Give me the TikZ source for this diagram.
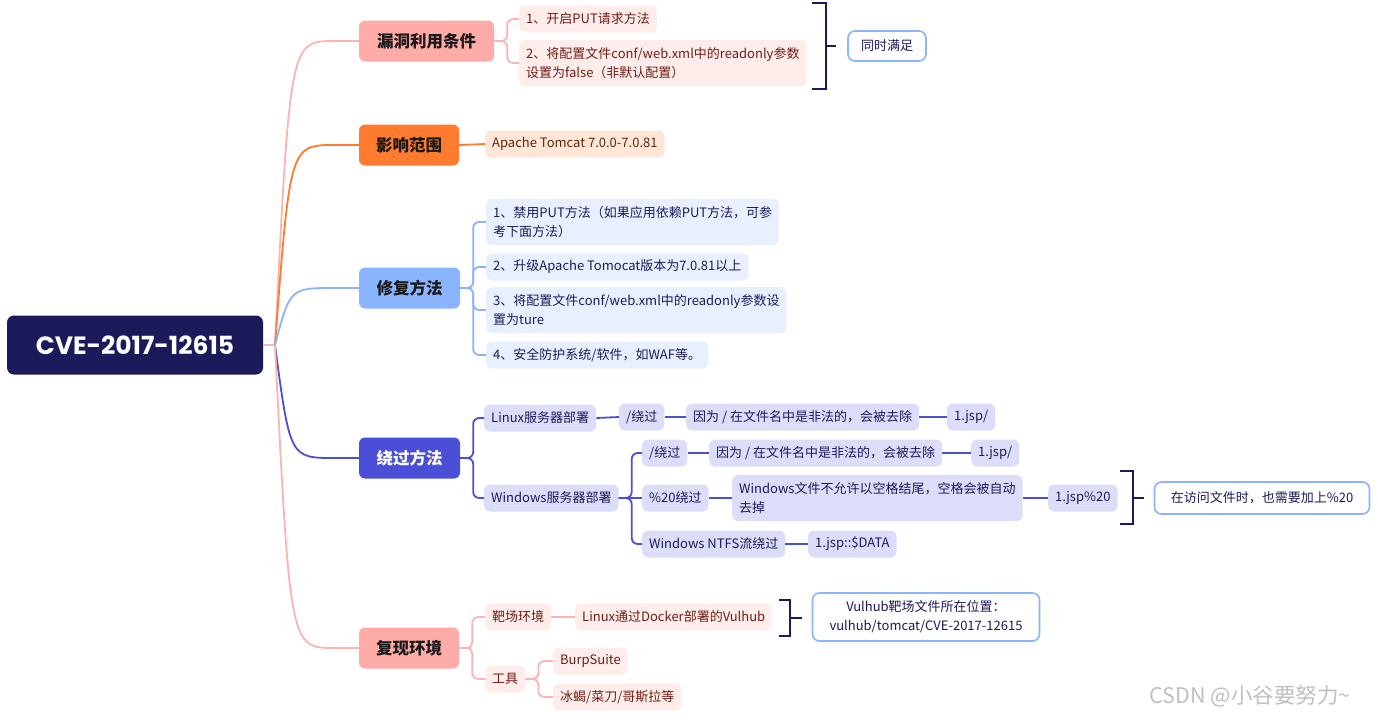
\documentclass[tikz,border=0pt]{standalone}
\usepackage{fontspec}
\setmainfont{Noto Sans CJK SC}
\newfontfamily\rootfont{Poppins}
\definecolor{navy}{HTML}{1C1A5A}
\definecolor{pinkmain}{HTML}{FFABA8}
\definecolor{pinkline}{HTML}{FFB3AE}
\definecolor{pinkbg}{HTML}{FFEDEC}
\definecolor{pinktext}{HTML}{6E1E14}
\definecolor{orangemain}{HTML}{FF7B2F}
\definecolor{orangebg}{HTML}{FFE6D6}
\definecolor{orangetext}{HTML}{5A2A10}
\definecolor{bluemain}{HTML}{8BB4FF}
\definecolor{bluebg}{HTML}{E8EFFE}
\definecolor{indigomain}{HTML}{4B4FD8}
\definecolor{indigobg}{HTML}{DCDDF8}

\begin{document}
\begin{tikzpicture}[x=1pt,y=-1pt,
  rootbox/.style={fill=navy, rounded corners=7pt, minimum width=256pt, minimum height=59pt,
    text=white, font=\rootfont\fontsize{25}{30}\selectfont\bfseries},
  mainbox/.style={rounded corners=6pt, minimum height=41pt, inner xsep=0pt, text=black!90,
    font=\fontsize{16.5}{20}\selectfont\bfseries},
  item/.style={anchor=west, rounded corners=6pt, minimum height=27pt, inner xsep=7pt, inner ysep=3pt,
    align=left, font=\fontsize{13}{19}\selectfont},
  two/.style={minimum height=46pt},
  pinkitem/.style={item, fill=pinkbg, text=pinktext},
  orangeitem/.style={item, fill=orangebg, text=orangetext},
  blueitem/.style={item, fill=bluebg, text=navy},
  indigoitem/.style={item, fill=indigobg, text=navy},
  note/.style={draw=bluemain, line width=1.6pt, fill=white, rounded corners=7pt, text=navy,
    align=center, font=\fontsize{13}{19}\selectfont},
  link/.style={line width=1.8pt},
  brk/.style={draw=navy, line width=2pt}]

\useasboundingbox (0,0) rectangle (1378,721);

% root and main branches
\node[rootbox] (root) at (135,345) {CVE-2017-12615};
\coordinate (hub) at (275,345);

\node[mainbox, fill=pinkmain, minimum width=135pt] (cond) at (426.5,41) {漏洞利用条件};
\node[mainbox, fill=orangemain, minimum width=100pt] (range) at (409,145) {影响范围};
\node[mainbox, fill=bluemain, minimum width=101pt] (fix) at (409.5,288) {修复方法};
\node[mainbox, fill=indigomain, minimum width=101pt, text=white] (bypass) at (409.5,458) {绕过方法};
\node[mainbox, fill=pinkmain, minimum width=100pt] (repro) at (409,648) {复现环境};

% conditions
\node[pinkitem] (cond1) at (519,19) {1、开启PUT请求方法};
\node[pinkitem, two] (cond2) at (519,63) {2、将配置文件conf/web.xml中的readonly参数\\设置为false（非默认配置）};
\node[note, minimum width=78pt, minimum height=30pt] (both) at (887,46) {同时满足};

% range
\node[orangeitem] (ver) at (485,144) {Apache Tomcat 7.0.0-7.0.81};

% fixes
\node[blueitem, two] (fix1) at (486,222) {1、禁用PUT方法（如果应用依赖PUT方法，可参\\考下面方法）};
\node[blueitem] (fix2) at (486,267) {2、升级Apache Tomocat版本为7.0.81以上};
\node[blueitem, two] (fix3) at (486,310) {3、将配置文件conf/web.xml中的readonly参数设\\置为ture};
\node[blueitem] (fix4) at (486,355) {4、安全防护系统/软件，如WAF等。};

% bypass
\node[indigoitem] (linux) at (484,418) {Linux服务器部署};
\node[indigoitem] (win) at (484,498) {Windows服务器部署};
\node[indigoitem] (lin1) at (619,417) {/绕过};
\node[indigoitem] (lin2) at (686,417) {因为 / 在文件名中是非法的，会被去除};
\node[indigoitem] (lin3) at (947,417) {1.jsp/};
\node[indigoitem] (slash1) at (642,453) {/绕过};
\node[indigoitem] (slash2) at (709,453) {因为 / 在文件名中是非法的，会被去除};
\node[indigoitem] (slash3) at (971,453) {1.jsp/};
\node[indigoitem] (space1) at (642,498) {\%20绕过};
\node[indigoitem, two] (space2) at (732,498) {Windows文件不允许以空格结尾，空格会被自动\\去掉};
\node[indigoitem] (space3) at (1048,498) {1.jsp\%20};
\node[note, minimum width=215pt, minimum height=32pt] (also) at (1262,498) {在访问文件时，也需要加上\%20};
\node[indigoitem] (ntfs1) at (642,544) {Windows NTFS流绕过};
\node[indigoitem] (ntfs2) at (808,544) {1.jsp::\$DATA};

% reproduction
\node[pinkitem] (lab) at (485,617) {靶场环境};
\node[pinkitem] (tool) at (485,679) {工具};
\node[pinkitem] (vul) at (575,617) {Linux通过Docker部署的Vulhub};
\node[note, minimum width=227pt, minimum height=48pt] (path) at (926,617) {Vulhub靶场文件所在位置：\\vulhub/tomcat/CVE-2017-12615};
\node[pinkitem] (burp) at (553,661) {BurpSuite};
\node[pinkitem] (shell) at (553,697) {冰蝎/菜刀/哥斯拉等};

% connectors
\draw[link, pinkline] (root.east) -- (hub);
\foreach \b/\y/\col in {cond/41/pinkline, range/145/orangemain, fix/288/bluemain, bypass/458/indigomain, repro/648/pinkline}
  \draw[link, \col] (hub) .. controls (290,\y) .. (335,\y) -- (\b.west);

\foreach \p/\c/\col in {cond/cond1/pinkline, cond/cond2/pinkline, fix/fix1/bluemain, fix/fix2/bluemain,
    fix/fix3/bluemain, fix/fix4/bluemain, bypass/linux/indigomain, bypass/win/indigomain,
    win/slash1/indigomain, win/ntfs1/indigomain, repro/lab/pinkline, repro/tool/pinkline,
    tool/burp/pinkline, tool/shell/pinkline}
  \draw[link, \col, rounded corners=6pt] (\p.east) -- ++(13,0) |- (\c.west);

\foreach \p/\c/\col in {range/ver/orangemain, linux/lin1/indigomain, lin1/lin2/indigomain, lin2/lin3/indigomain,
    slash1/slash2/indigomain, slash2/slash3/indigomain, win/space1/indigomain, space1/space2/indigomain,
    space2/space3/indigomain, ntfs1/ntfs2/indigomain, lab/vul/pinkline}
  \draw[link, \col] (\p.east) -- (\c.west);

% brackets
\draw[brk] (812,3) -- (826,3) -- (826,89) -- (812,89);
\draw[brk] (826,46) -- (836,46);
\draw[brk] (1120,471) -- (1133,471) -- (1133,524) -- (1120,524);
\draw[brk] (1133,498) -- (1144,498);
\draw[brk] (779,600) -- (790,600) -- (790,636) -- (779,636);
\draw[brk] (790,618) -- (802,618);

\node[text=gray!50, font=\fontsize{21.5}{24}\selectfont] (mark) at (1250,696) {CSDN @小谷要努力\textasciitilde};

\end{tikzpicture}
\end{document}
